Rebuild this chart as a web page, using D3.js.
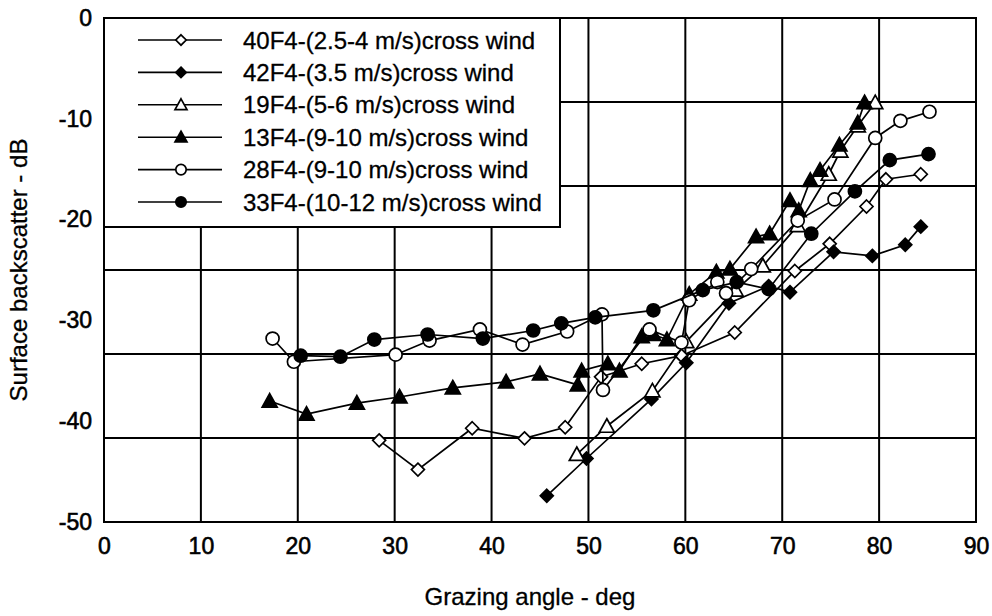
<!DOCTYPE html>
<html>
<head>
<meta charset="utf-8">
<script src="https://cdn.jsdelivr.net/npm/d3@7"></script>
<style>
  html, body { margin: 0; padding: 0; background: #fff; }
  svg { display: block; }
  text { font-family: "Liberation Sans", Arial, Helvetica, sans-serif; fill: #000; }
</style>
</head>
<body>
<svg id="chart" width="992" height="616"></svg>
<script>
// ---- data ----
const xTickValues = [0, 10, 20, 30, 40, 50, 60, 70, 80, 90];
const yTickValues = [0, -10, -20, -30, -40, -50];

const seriesNames = [
  "40F4-(2.5-4 m/s)cross wind",
  "42F4-(3.5 m/s)cross wind",
  "19F4-(5-6 m/s)cross wind",
  "13F4-(9-10 m/s)cross wind",
  "28F4-(9-10 m/s)cross wind",
  "33F4-(10-12 m/s)cross wind"
];
const seriesMarkers = ["diamond", "diamond", "triangle", "triangle", "circle", "circle"];
const seriesFilled = [false, true, false, true, false, true];

const s40F4 = [[28.4,-41.9],[32.4,-44.8],[38.0,-40.7],[43.4,-41.7],[47.6,-40.6],[51.3,-35.6],[55.5,-34.3],[59.6,-33.5],[65.1,-31.2],[71.3,-25.1],[74.9,-22.4],[78.7,-18.7],[80.7,-16.0],[84.3,-15.5]];
const s42F4 = [[45.7,-47.4],[49.8,-43.7],[56.5,-37.8],[60.1,-34.2],[64.5,-28.3],[68.6,-26.6],[70.8,-27.2],[75.3,-23.2],[79.3,-23.6],[82.7,-22.5],[84.3,-20.7]];
const s19F4 = [[48.8,-43.3],[51.9,-40.5],[56.6,-37.0],[60.1,-32.1],[65.2,-27.0],[68.0,-24.6],[71.6,-20.6],[74.8,-15.5],[76.0,-13.2],[77.8,-10.7],[79.6,-8.4]];
const s13F4 = [[17.1,-38.0],[20.9,-39.3],[26.1,-38.2],[30.5,-37.6],[36.0,-36.7],[41.5,-36.1],[45.0,-35.3],[48.9,-36.4],[49.3,-35.0],[52.0,-34.3],[53.2,-35.0],[55.5,-31.6],[56.7,-31.4],[58.1,-31.9],[60.4,-27.4],[63.2,-25.2],[64.6,-24.9],[67.3,-21.7],[68.7,-21.4],[70.8,-18.1],[71.7,-19.1],[72.9,-16.1],[73.9,-15.1],[75.9,-12.6],[77.8,-10.4],[78.5,-8.4]];
const s28F4 = [[17.4,-31.8],[19.6,-34.1],[30.1,-33.4],[33.6,-32.0],[38.8,-30.9],[43.2,-32.4],[47.8,-31.1],[51.4,-29.4],[51.5,-36.9],[56.3,-30.9],[59.6,-32.2],[60.4,-28.0],[63.3,-26.2],[64.2,-27.3],[66.8,-24.9],[71.6,-20.1],[75.4,-18.0],[79.6,-11.9],[82.2,-10.2],[85.2,-9.3]];
const s33F4 = [[20.3,-33.5],[24.4,-33.6],[27.9,-31.9],[33.4,-31.4],[39.1,-31.8],[44.3,-31.0],[47.2,-30.3],[50.7,-29.7],[56.7,-29.0],[61.8,-27.0],[65.3,-26.2],[68.6,-26.9],[73.0,-21.4],[77.5,-17.2],[81.1,-14.1],[85.1,-13.5]];

const allSeries = [s40F4, s42F4, s19F4, s13F4, s28F4, s33F4];

// horizontal grid divides the range into 6 equal bands (as in original)
const yGridValues = d3.range(0, 7).map(i => -50 + i * 50 / 6);

// ---- layout ----
const svg = d3.select("#chart");
const plot = { left: 104, right: 976, top: 18, bottom: 522 };

const x = d3.scaleLinear().domain([0, 90]).range([plot.left, plot.right]);
const y = d3.scaleLinear().domain([-50, 0]).range([plot.bottom, plot.top]);

const ink = "#000";

// grid
const grid = svg.append("g");
grid.selectAll("line.v").data(xTickValues.slice(1, -1)).join("line")
  .attr("x1", d => x(d)).attr("x2", d => x(d))
  .attr("y1", plot.top).attr("y2", plot.bottom)
  .attr("stroke", ink).attr("stroke-width", 2);
grid.selectAll("line.h").data(yGridValues.slice(1, -1)).join("line")
  .attr("x1", plot.left).attr("x2", plot.right)
  .attr("y1", d => y(d)).attr("y2", d => y(d))
  .attr("stroke", ink).attr("stroke-width", 2);

// frame
svg.append("rect")
  .attr("x", plot.left).attr("y", plot.top)
  .attr("width", plot.right - plot.left).attr("height", plot.bottom - plot.top)
  .attr("fill", "none").attr("stroke", ink).attr("stroke-width", 2);

// axes tick labels via d3 axes (no domain/tick lines); plain hyphen minus as in original
const fmt = d => String(d);
const xAxis = d3.axisBottom(x).tickValues(xTickValues).tickFormat(fmt).tickSize(0).tickPadding(16);
const gx = svg.append("g").attr("transform", `translate(0,${plot.bottom})`).call(xAxis);
gx.select(".domain").remove();
gx.selectAll("text").attr("font-size", 23).attr("font-family", "Liberation Sans, Arial, sans-serif")
  .attr("fill", "#000").attr("stroke", "#000").attr("stroke-width", 0.6);

const yAxis = d3.axisLeft(y).tickValues(yTickValues).tickFormat(fmt).tickSize(0).tickPadding(12);
const gy = svg.append("g").attr("transform", `translate(${plot.left},0)`).call(yAxis);
gy.select(".domain").remove();
gy.selectAll("text").attr("font-size", 23).attr("font-family", "Liberation Sans, Arial, sans-serif")
  .attr("fill", "#000").attr("stroke", "#000").attr("stroke-width", 0.6);

// axis titles
svg.append("text")
  .attr("x", 530).attr("y", 605)
  .attr("text-anchor", "middle")
  .attr("font-size", 24)
  .attr("stroke", "#000").attr("stroke-width", 0.3)
  .text("Grazing angle - deg");
svg.append("text")
  .attr("transform", "translate(27,270) rotate(-90)")
  .attr("text-anchor", "middle")
  .attr("font-size", 24)
  .attr("stroke", "#000").attr("stroke-width", 0.3)
  .text("Surface backscatter - dB");

// marker drawing
function drawMarker(g, type, filled, cx, cy, k) {
  const fill = filled ? ink : "#fff";
  if (type === "circle") {
    g.append("circle").attr("cx", cx).attr("cy", cy).attr("r", 6.5 * k)
      .attr("fill", fill).attr("stroke", ink).attr("stroke-width", 1.7);
  } else if (type === "diamond") {
    const s = 6.5 * k;
    g.append("path").attr("d", `M${cx},${cy - s}L${cx + s},${cy}L${cx},${cy + s}L${cx - s},${cy}Z`)
      .attr("fill", fill).attr("stroke", ink).attr("stroke-width", 1.7);
  } else {
    const s = 7.5 * k;
    g.append("path").attr("d", `M${cx},${cy - s}L${cx + s},${cy + s * 0.8}L${cx - s},${cy + s * 0.8}Z`)
      .attr("fill", fill).attr("stroke", ink).attr("stroke-width", 1.7);
  }
}

// legend box (covers grid)
const legend = { x1: plot.left, y1: plot.top, x2: 560, y2: 227 };
svg.append("rect")
  .attr("x", legend.x1).attr("y", legend.y1)
  .attr("width", legend.x2 - legend.x1).attr("height", legend.y2 - legend.y1)
  .attr("fill", "#fff").attr("stroke", ink).attr("stroke-width", 2);
const rowY = d3.scaleLinear().domain([0, 5]).range([40, 202]);
seriesNames.forEach((name, i) => {
  const g = svg.append("g");
  const yy = rowY(i);
  g.append("line").attr("x1", 138).attr("x2", 222).attr("y1", yy).attr("y2", yy)
    .attr("stroke", ink).attr("stroke-width", 1.6);
  drawMarker(g, seriesMarkers[i], seriesFilled[i], 181, yy, 0.8);
  g.append("text").attr("x", 243).attr("y", yy).attr("dy", "0.36em")
    .attr("font-size", 24).attr("stroke", "#000").attr("stroke-width", 0.3)
    .text(name);
});

// series
const line = d3.line().x(d => x(d[0])).y(d => y(d[1]));
allSeries.forEach((data, i) => {
  const g = svg.append("g");
  g.append("path").attr("d", line(data)).attr("fill", "none")
    .attr("stroke", ink).attr("stroke-width", 1.7);
  data.forEach(d => drawMarker(g, seriesMarkers[i], seriesFilled[i], x(d[0]), y(d[1]), 1));
});
</script>
</body>
</html>
